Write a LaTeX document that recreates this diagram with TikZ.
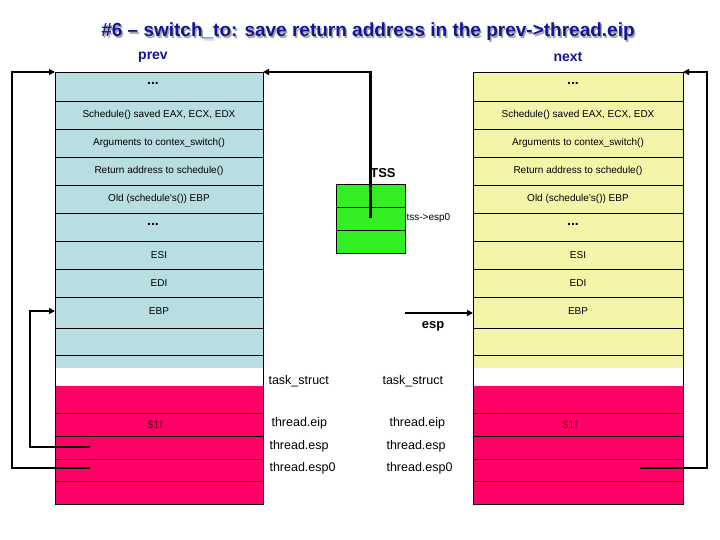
\documentclass[tikz,border=0pt]{standalone}
\usepackage{fontspec}
\setmainfont{Liberation Sans}
\usetikzlibrary{arrows.meta}
\definecolor{titleblue}{RGB}{20,20,150}
\definecolor{stackblue}{RGB}{184,222,226}
\definecolor{stackyellow}{RGB}{245,245,170}
\definecolor{stackpink}{RGB}{255,0,102}
\definecolor{tssgreen}{RGB}{51,238,34}
\definecolor{oneftext}{RGB}{110,0,30}

\tikzset{
    row/.style={font=\fontsize{10}{12}\selectfont},
    dots/.style={font=\bfseries\fontsize{14}{14}\selectfont},
    field/.style={font=\fontsize{12.5}{14}\selectfont, anchor=west},
    link/.style={line width=2.2pt},
    arr/.style={link, -{Triangle[length=6pt, width=6pt]}},
    tsscell/.style={draw, thick, fill=tssgreen, minimum width=69pt, minimum height=23pt, inner sep=0pt}
}

\begin{document}
\begin{tikzpicture}[x=1pt, y=-1pt]

        \useasboundingbox (0,0) rectangle (720,540);

        % title
        \node[font=\bfseries\fontsize{19}{22}\selectfont, text=black!35] at (369.5,33.5) {\#6 – switch\_to: save return address in the prev->thread.eip};
        \node[font=\bfseries\fontsize{19}{22}\selectfont, text=titleblue] (title) at (368,32) {\#6 – switch\_to: save return address in the prev->thread.eip};

        \node[font=\bfseries\fontsize{14}{16}\selectfont, text=titleblue] (prevLabel) at (153,57) {prev};
        \node[font=\bfseries\fontsize{14}{16}\selectfont, text=titleblue] (nextLabel) at (568,57) {next};

        % stacks
        \fill[stackblue] (55,72) rectangle (263,368);
        \fill[stackpink] (55,386) rectangle (263,504);
        \draw[thick] (55,72) rectangle (263,504);

        \fill[stackyellow] (473,72) rectangle (683,368);
        \fill[stackpink] (473,386) rectangle (683,504);
        \draw[thick] (473,72) rectangle (683,504);

        \foreach \y in {101,129,157,185,213,241,269,297,328,355,413,436,459,481} {
            \draw[thick] (55,\y) -- (263,\y);
            \draw[thick] (473,\y) -- (683,\y);
        }

        \foreach \i/\y/\t in {2/115/{Schedule() saved EAX, ECX, EDX},
                             3/143/{Arguments to contex\_switch()},
                             4/171/{Return address to schedule()},
                             5/199/{Old (schedule's()) EBP},
                             7/255/ESI, 8/283/EDI, 9/311/EBP} {
            \node[row] (prev-\i) at (159,\y) {\t};
            \node[row] (next-\i) at (578,\y) {\t};
        }
        \foreach \i/\y in {1/83, 6/224} {
            \node[dots] (prev-\i) at (153,\y) {...};
            \node[dots] (next-\i) at (573,\y) {...};
        }

        \node[font=\fontsize{11}{13}\selectfont, text=oneftext] (prevOneF) at (155,425) {\$1f};
        \node[font=\fontsize{11}{13}\selectfont, text=oneftext] (nextOneF) at (570,425) {\$1f};

        % task_struct fields
        \node[field] (prevTask) at (265,381) {task\_struct};
        \node[field] (nextTask) at (379,381) {task\_struct};
        \node[field] (prevEip) at (268,423) {thread.eip};
        \node[field] (prevEsp) at (266,446) {thread.esp};
        \node[field] (prevEspZ) at (266,468) {thread.esp0};
        \node[field] (nextEip) at (386,423) {thread.eip};
        \node[field] (nextEsp) at (383,446) {thread.esp};
        \node[field] (nextEspZ) at (383,468) {thread.esp0};

        % TSS
        \node[tsscell] (tss1) at (370.5,195.5) {};
        \node[tsscell] (tss2) at (370.5,218.5) {};
        \node[tsscell] (tss3) at (370.5,241.5) {};
        \node[font=\bfseries\fontsize{13}{15}\selectfont] (tssLabel) at (383,173) {TSS};
        \node[row, anchor=west, inner sep=1pt] (tssEsp) at (tss2.east) {tss->esp0};

        \node[font=\bfseries\fontsize{13}{15}\selectfont] (espLabel) at (433,326) {esp};

        % connectors
        \coordinate (prevTopL) at (55,72);
        \coordinate (prevTopR) at (263,72);
        \coordinate (nextTopR) at (683,72);
        \coordinate (prevEBP) at (55,311);
        \coordinate (nextEBP) at (473,313);
        \coordinate (prevSlotEsp) at (90,447);
        \coordinate (prevSlotEspZ) at (90,468);
        \coordinate (nextSlotEspZ) at (640,468);
        \coordinate (leftRail) at (12,72);
        \coordinate (innerRail) at (30,311);
        \coordinate (rightRail) at (707,72);
        \coordinate (espTail) at (405,313);

        \draw[arr] (tss2.center) |- (prevTopR);
        \draw[arr] (prevSlotEspZ) -| (leftRail) -- (prevTopL);
        \draw[arr] (prevSlotEsp) -| (innerRail) -- (prevEBP);
        \draw[arr] (nextSlotEspZ) -| (rightRail) -- (nextTopR);
        \draw[arr] (espTail) -- (nextEBP);

    \end{tikzpicture}
\end{document}
